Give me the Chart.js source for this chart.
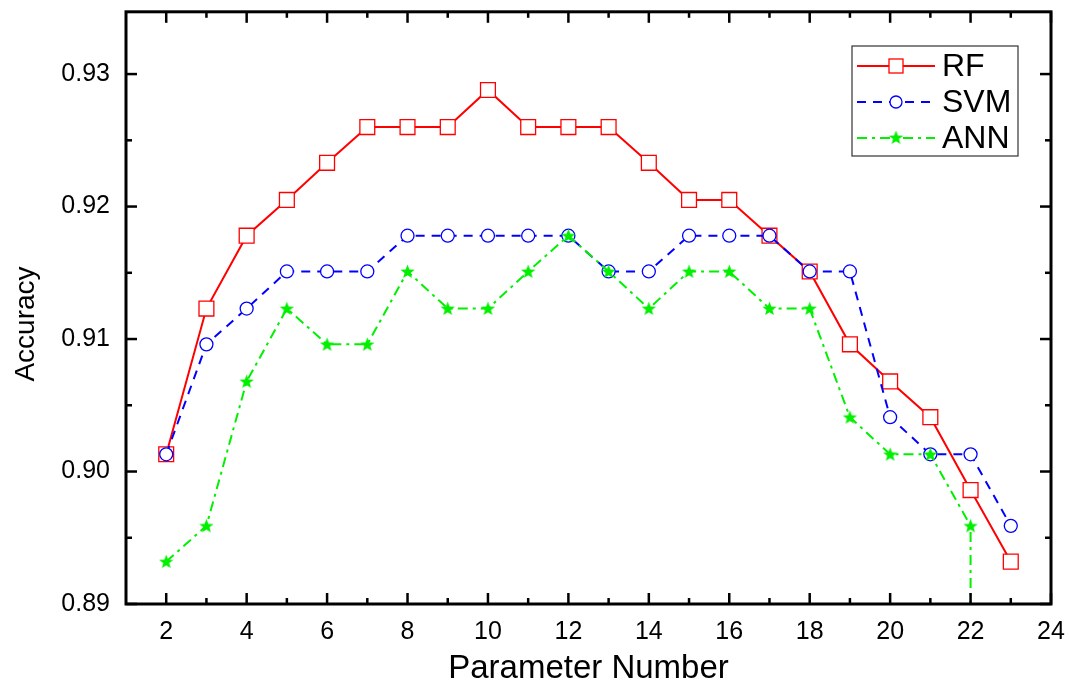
<!DOCTYPE html>
<html>
<head>
<meta charset="utf-8">
<script src="https://cdn.jsdelivr.net/npm/chart.js@4/dist/chart.umd.min.js"></script>
<style>
    html, body { margin: 0; padding: 0; background: #fff; }
    #wrap { width: 1070px; height: 685px; }
</style>
</head>
<body>
<div id="wrap"><canvas id="chart-acc"></canvas></div>
<script>
// values
const paramNumbers = [2, 3, 4, 5, 6, 7, 8, 9, 10, 11, 12, 13, 14, 15, 16, 17, 18, 19, 20, 21, 22, 23];
const rfAcc  = [0.9013, 0.9123, 0.9178, 0.9205, 0.9233, 0.9260, 0.9260, 0.9260, 0.9288, 0.9260, 0.9260,
                0.9260, 0.9233, 0.9205, 0.9205, 0.9178, 0.9151, 0.9096, 0.9068, 0.9041, 0.8986, 0.8932];
const svmAcc = [0.9013, 0.9096, 0.9123, 0.9151, 0.9151, 0.9151, 0.9178, 0.9178, 0.9178, 0.9178, 0.9178,
                0.9151, 0.9151, 0.9178, 0.9178, 0.9178, 0.9151, 0.9151, 0.9041, 0.9013, 0.9013, 0.8959];
// ANN drops off the bottom of the axis right after 22
const annX   = [2, 3, 4, 5, 6, 7, 8, 9, 10, 11, 12, 13, 14, 15, 16, 17, 18, 19, 20, 21, 22, 22];
const annAcc = [0.8932, 0.8959, 0.9068, 0.9123, 0.9096, 0.9096, 0.9151, 0.9123, 0.9123, 0.9151, 0.9178,
                0.9151, 0.9123, 0.9151, 0.9151, 0.9123, 0.9123, 0.9041, 0.9013, 0.9013, 0.8959, 0.8500];

const xTicks = [2, 4, 6, 8, 10, 12, 14, 16, 18, 20, 22, 24];
const xMinorTicks = [3, 5, 7, 9, 11, 13, 15, 17, 19, 21, 23];
const yTicks = [0.89, 0.90, 0.91, 0.92, 0.93];
const yMinorTicks = [0.895, 0.905, 0.915, 0.925];

const FONT = '"Liberation Sans", Arial, sans-serif';

// filled star marker for ANN
function makeStar(size, color) {
    const c = document.createElement('canvas');
    c.width = size; c.height = size;
    const ctx = c.getContext('2d');
    const cx = size / 2, cy = size / 2, R = size / 2, r = R * 0.42;
    ctx.beginPath();
    for (let i = 0; i < 10; i++) {
        const rad = i % 2 === 0 ? R : r;
        const a = -Math.PI / 2 + i * Math.PI / 5;
        ctx.lineTo(cx + rad * Math.cos(a), cy + rad * Math.sin(a) + 0.5);
    }
    ctx.closePath();
    ctx.fillStyle = color;
    ctx.fill();
    return c;
}
const starImg = makeStar(15, '#00f000');

const toPts = (xs, ys) => xs.map((x, i) => ({ x: x, y: ys[i] }));

// box, inward ticks on all four sides, y title, legend
const framePlugin = {
    id: 'frame',
    afterDatasetsDraw(chart) {
        const { ctx, chartArea: a, scales } = chart;
        const xs = scales.x, ys = scales.y;
        ctx.save();
        ctx.strokeStyle = '#000';
        ctx.lineWidth = 2.5;
        const tick = (x1, y1, x2, y2) => { ctx.beginPath(); ctx.moveTo(x1, y1); ctx.lineTo(x2, y2); ctx.stroke(); };
        xTicks.forEach(v => {
            const px = xs.getPixelForValue(v);
            tick(px, a.bottom, px, a.bottom - 11);
            tick(px, a.top, px, a.top + 11);
        });
        xMinorTicks.forEach(v => {
            const px = xs.getPixelForValue(v);
            tick(px, a.bottom, px, a.bottom - 6);
            tick(px, a.top, px, a.top + 6);
        });
        yTicks.forEach(v => {
            const py = ys.getPixelForValue(v);
            tick(a.left, py, a.left + 11, py);
            tick(a.right, py, a.right - 11, py);
        });
        yMinorTicks.forEach(v => {
            const py = ys.getPixelForValue(v);
            tick(a.left, py, a.left + 6, py);
            tick(a.right, py, a.right - 6, py);
        });
        ctx.lineWidth = 3;
        ctx.strokeRect(a.left, a.top, a.right - a.left, a.bottom - a.top);

        // y axis title, sits a bit below the middle in the original
        ctx.save();
        ctx.translate(26, 324);
        ctx.rotate(-Math.PI / 2);
        ctx.fillStyle = '#000';
        ctx.font = '28px ' + FONT;
        ctx.textAlign = 'center';
        ctx.textBaseline = 'middle';
        ctx.fillText('Accuracy', 0, 0);
        ctx.restore();

        // legend
        const lx = 852, ly = 46, lw = 166, lh = 110;
        ctx.fillStyle = '#fff';
        ctx.fillRect(lx, ly, lw, lh);
        ctx.lineWidth = 1.2;
        ctx.strokeStyle = '#333';
        ctx.strokeRect(lx, ly, lw, lh);
        const rows = [66, 102, 138];
        chart.data.datasets.forEach((ds, i) => {
            const y = rows[i];
            ctx.save();
            ctx.strokeStyle = ds.borderColor;
            ctx.lineWidth = ds.borderWidth;
            ctx.setLineDash(ds.borderDash || []);
            tick(857, y, 935, y);
            ctx.restore();
            const mx = 896;
            ctx.save();
            ctx.strokeStyle = ds.borderColor;
            ctx.fillStyle = '#fff';
            ctx.lineWidth = 1.3;
            if (ds.pointStyle === 'rect') {
                ctx.fillRect(mx - 7, y - 7, 14, 14);
                ctx.strokeRect(mx - 7, y - 7, 14, 14);
            } else if (ds.pointStyle === 'circle') {
                ctx.beginPath(); ctx.arc(mx, y, 6, 0, Math.PI * 2); ctx.fill(); ctx.stroke();
            } else {
                ctx.drawImage(starImg, mx - 7.5, y - 8);
            }
            ctx.restore();
            ctx.fillStyle = '#000';
            ctx.font = '32px ' + FONT;
            ctx.textBaseline = 'middle';
            ctx.fillText(ds.label, 942, y + 1);
        });
        ctx.restore();
    }
};

new Chart(document.getElementById('chart-acc'), {
    type: 'line',
    data: {
        datasets: [
            {
                label: 'RF',
                data: toPts(paramNumbers, rfAcc),
                borderColor: '#ff0000',
                backgroundColor: '#ffffff',
                borderWidth: 2,
                pointStyle: 'rect',
                pointRadius: 10.5,
                pointBorderWidth: 1.3,
                pointBackgroundColor: '#ffffff',
                pointBorderColor: '#ff0000',
                order: 3
            },
            {
                label: 'SVM',
                data: toPts(paramNumbers, svmAcc),
                borderColor: '#0000ff',
                backgroundColor: '#ffffff',
                borderWidth: 2,
                borderDash: [9, 7],
                pointStyle: 'circle',
                pointRadius: 6.5,
                pointBorderWidth: 1.3,
                pointBackgroundColor: '#ffffff',
                pointBorderColor: '#0000ff',
                order: 2
            },
            {
                label: 'ANN',
                data: toPts(annX, annAcc),
                borderColor: '#00f000',
                backgroundColor: '#00f000',
                borderWidth: 2,
                borderDash: [10, 5, 3, 5],
                pointStyle: starImg,
                pointRadius: annAcc.map((v, i) => i === annAcc.length - 1 ? 0 : 7),
                order: 1
            }
        ]
    },
    options: {
        responsive: true,
        maintainAspectRatio: false,
        animation: false,
        events: [],
        layout: { padding: { top: 8, right: 19, left: 0, bottom: 0 } },
        plugins: {
            legend: { display: false },
            tooltip: { enabled: false }
        },
        scales: {
            x: {
                type: 'linear',
                min: 1,
                max: 24,
                afterBuildTicks: s => { s.ticks = xTicks.map(v => ({ value: v })); },
                afterFit: s => { s.height = 81; s.paddingLeft = 0; s.paddingRight = 0; },
                grid: { display: false, drawTicks: false },
                border: { display: false },
                ticks: {
                    autoSkip: false,
                    maxRotation: 0,
                    padding: 13,
                    color: '#000',
                    font: { family: FONT, size: 25 }
                },
                title: {
                    display: true,
                    text: 'Parameter Number',
                    color: '#000',
                    font: { family: FONT, size: 33, lineHeight: 1 },
                    padding: { top: 0, bottom: 0 }
                }
            },
            y: {
                type: 'linear',
                min: 0.89,
                max: 0.9347,
                afterBuildTicks: s => { s.ticks = yTicks.map(v => ({ value: v })); },
                afterFit: s => { s.width = 126; s.paddingTop = 0; s.paddingBottom = 0; },
                grid: { display: false, drawTicks: false },
                border: { display: false },
                ticks: {
                    autoSkip: false,
                    padding: 16,
                    color: '#000',
                    font: { family: FONT, size: 25 },
                    callback: v => v.toFixed(2)
                }
            }
        }
    },
    plugins: [framePlugin]
});
</script>
</body>
</html>
